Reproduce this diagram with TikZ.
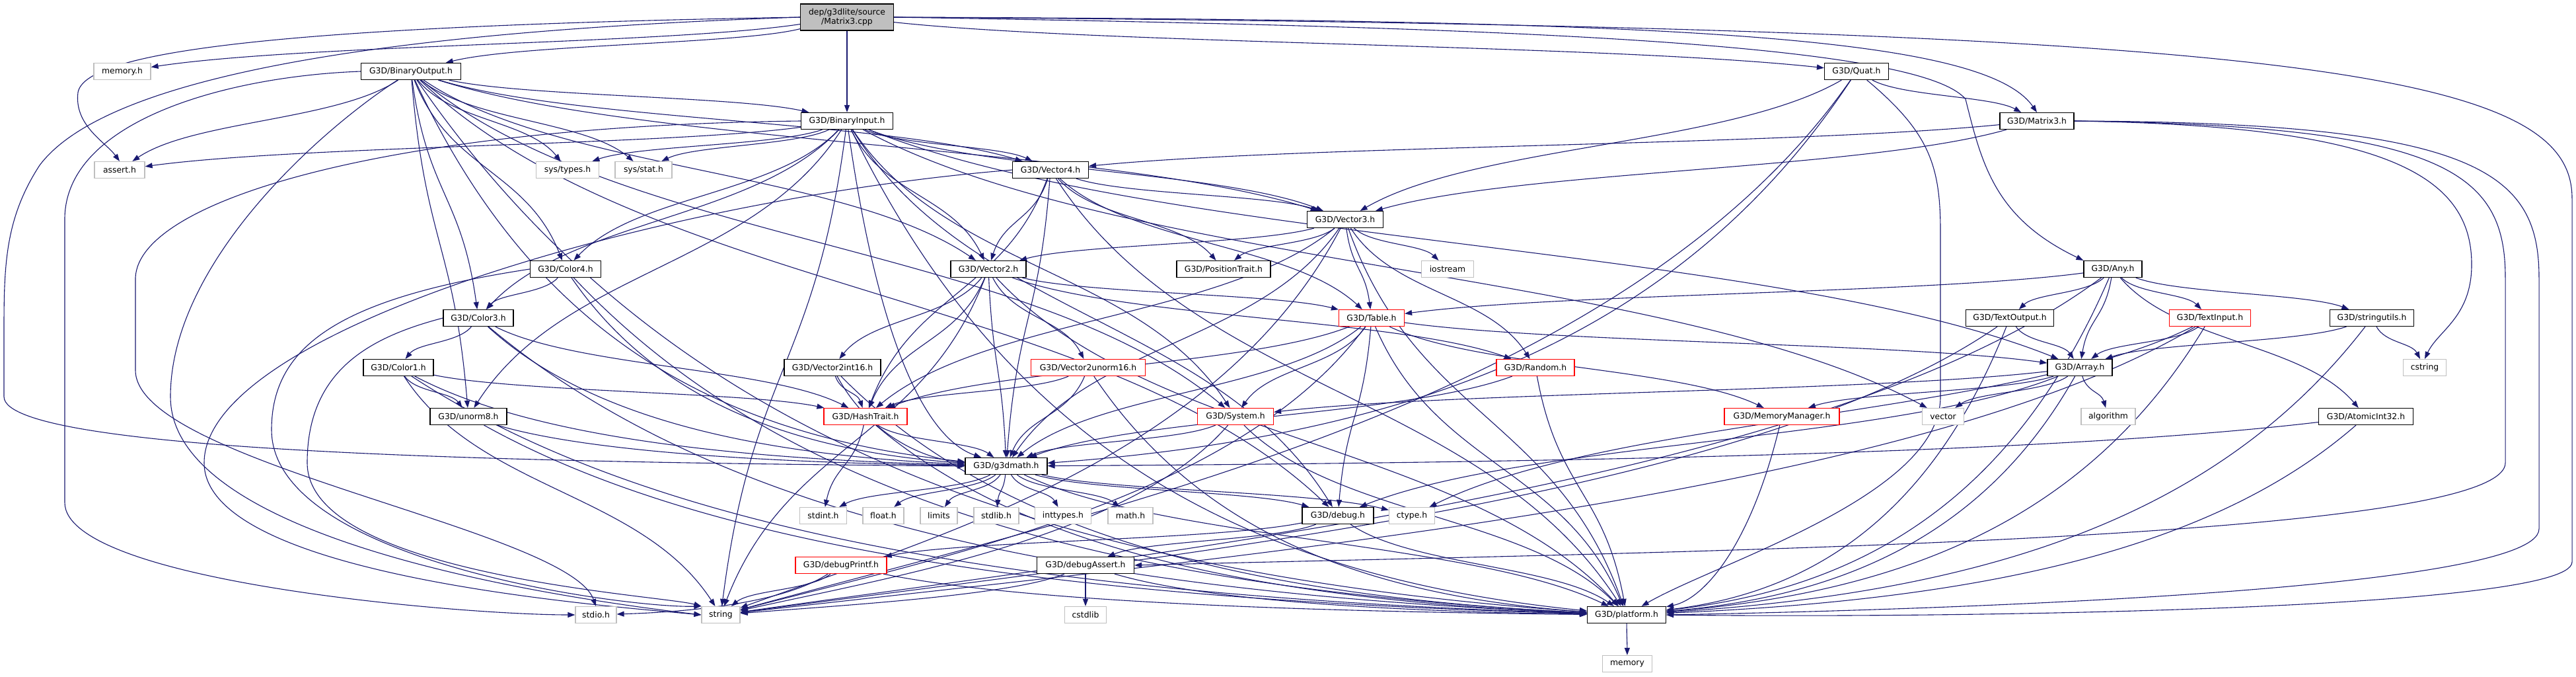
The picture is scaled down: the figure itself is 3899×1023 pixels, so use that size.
\documentclass[tikz,border=0pt]{standalone}
\usepackage{fontspec}
\setmainfont{DejaVu Sans}
\usetikzlibrary{arrows.meta,calc}
\pgfdeclarelayer{bg}
\pgfsetlayers{bg,main}
\definecolor{mblue}{HTML}{191970}
\definecolor{lgray}{HTML}{BFBFBF}
\tikzset{
 box/.style={draw=black, line width=1.2pt, fill=white, minimum height=25pt, inner sep=0pt, font=\fontsize{12.4}{14}\selectfont, text=black},
 rbox/.style={box, draw=red},
 gbox/.style={box, draw=lgray},
 mainbox/.style={box, fill=lgray, minimum height=40pt, align=center},
 edge/.style={draw=mblue, line width=1.1pt, -{Triangle[length=11pt,width=8pt]}},
}
\newcommand\lnkA[2]{\draw[edge] let \p1=(#1.center), \p2=(#2.center) in
    (#1) .. controls ({\x1+0.25*(\x2-\x1)},{\y1+0.5*(\y2-\y1)}) and ({\x2-0.25*(\x2-\x1)},{\y2-0.5*(\y2-\y1)}) .. (#2);}
\newcommand\lnkH[2]{\draw[edge] let \p1=(#1.center), \p2=(#2.center) in
    (#1) .. controls ({\x1+0.2*(\x2-\x1)},{\y1+0.65*(\y2-\y1)}) and ({\x2-0.5*(\x2-\x1)},{\y2-0.08*(\y2-\y1)}) .. (#2);}
\newcommand\lnkS[2]{\draw[edge] let \p1=(#1.center), \p2=(#2.center) in
    (#1) .. controls ({\x1+0.2*(\x2-\x1)},{\y1+0.6*(\y2-\y1)}) and ({\x2-0.35*(\x2-\x1)},{\y2-0.2*(\y2-\y1)}) .. (#2);}
\begin{document}
\begin{tikzpicture}[x=1pt,y=-1pt]
\path[use as bounding box] (0,0) rectangle (3899,1023);
% rank 0-4
\node[mainbox, minimum width=141pt] (m3cpp) at (1282,26) {dep/g3dlite/source\\/Matrix3.cpp};
\node[gbox, minimum width=86pt] (memh) at (185,108) {memory.h};
\node[box, minimum width=151pt] (bo) at (622,108) {G3D/BinaryOutput.h};
\node[box, minimum width=97pt] (quat) at (2810,108) {G3D/Quat.h};
\node[box, minimum width=139pt] (bi) at (1282,183) {G3D/BinaryInput.h};
\node[box, minimum width=112pt] (m3h) at (3083,183) {G3D/Matrix3.h};
\node[gbox, minimum width=76pt] (assert) at (181,257) {assert.h};
\node[gbox, minimum width=95pt] (systypes) at (859,257) {sys/types.h};
\node[gbox, minimum width=86pt] (sysstat) at (974,257) {sys/stat.h};
\node[box, minimum width=115pt] (v4) at (1590,257) {G3D/Vector4.h};
\node[box, minimum width=115pt] (v3) at (2036,332) {G3D/Vector3.h};
% rank 5
\node[box, minimum width=107pt] (c4) at (856,407) {G3D/Color4.h};
\node[box, minimum width=114pt] (v2) at (1496,407) {G3D/Vector2.h};
\node[box, minimum width=142pt] (pos) at (1852,407) {G3D/PositionTrait.h};
\node[gbox, minimum width=79pt] (iostream) at (2191,407) {iostream};
\node[box, minimum width=88pt] (any) at (3198,407) {G3D/Any.h};
% rank 6
\node[box, minimum width=106pt] (c3) at (724,481) {G3D/Color3.h};
\node[rbox, minimum width=99pt] (table) at (2076,481) {G3D/Table.h};
\node[box, minimum width=133pt] (tout) at (3042,481) {G3D/TextOutput.h};
\node[rbox, minimum width=123pt] (tin) at (3345,481) {G3D/TextInput.h};
\node[box, minimum width=127pt] (strutil) at (3590,481) {G3D/stringutils.h};
% rank 7
\node[box, minimum width=106pt] (c1) at (603,556) {G3D/Color1.h};
\node[box, minimum width=146pt] (v2i16) at (1260,556) {G3D/Vector2int16.h};
\node[rbox, minimum width=173pt] (v2u16) at (1647,556) {G3D/Vector2unorm16.h};
\node[rbox, minimum width=118pt] (random) at (2324,556) {G3D/Random.h};
\node[box, minimum width=98pt] (array) at (3148,556) {G3D/Array.h};
\node[gbox, minimum width=65pt] (cstring) at (3670,556) {cstring};
% rank 8
\node[box, minimum width=116pt] (unorm8) at (709,630) {G3D/unorm8.h};
\node[rbox, minimum width=126pt] (hash) at (1310,630) {G3D/HashTrait.h};
\node[rbox, minimum width=115pt] (system) at (1870,630) {G3D/System.h};
\node[rbox, minimum width=174pt] (memmgr) at (2697,630) {G3D/MemoryManager.h};
\node[gbox, minimum width=63pt] (vector) at (2941,630) {vector};
\node[gbox, minimum width=82pt] (algorithm) at (3191,630) {algorithm};
\node[box, minimum width=143pt] (atomic) at (3581,630) {G3D/AtomicInt32.h};
% rank 9-13
\node[box, minimum width=124pt] (g3dmath) at (1523,705) {G3D/g3dmath.h};
\node[gbox, minimum width=71pt] (stdint) at (1246,780) {stdint.h};
\node[gbox, minimum width=62pt] (float) at (1337,780) {float.h};
\node[gbox, minimum width=56pt] (limits) at (1421,780) {limits};
\node[gbox, minimum width=68pt] (stdlib) at (1508,780) {stdlib.h};
\node[gbox, minimum width=85pt] (inttypes) at (1609,780) {inttypes.h};
\node[gbox, minimum width=68pt] (math) at (1711,780) {math.h};
\node[box, minimum width=108pt] (debug) at (2025,780) {G3D/debug.h};
\node[gbox, minimum width=69pt] (ctype) at (2137,780) {ctype.h};
\node[rbox, minimum width=138pt] (dprintf) at (1273,855) {G3D/debugPrintf.h};
\node[box, minimum width=147pt] (dassert) at (1643,855) {G3D/debugAssert.h};
\node[gbox, minimum width=62pt] (stdio) at (902,930) {stdio.h};
\node[gbox, minimum width=58pt] (string) at (1091,930) {string};
\node[gbox, minimum width=63pt] (cstdlib) at (1643,930) {cstdlib};
\node[box, minimum width=119pt] (platform) at (2462,930) {G3D/platform.h};
\node[gbox, minimum width=75pt] (memory) at (2463,1004) {memory};

\begin{pgfonlayer}{bg}
% special routes
\draw[edge] (m3cpp.east) .. controls (3500,40) and (3893,110) .. (3893,300) -- (3893,850) .. controls (3893,925) and (2900,935) .. (platform.east);
\draw[edge] (m3cpp.west) .. controls (400,40) and (128,80) .. (118,140) .. controls (112,190) and (160,215) .. (assert.north);
\draw[edge] (m3cpp.west) .. controls (500,50) and (150,130) .. (60,250) .. controls (8,330) and (6,400) .. (6,500) -- (6,600) .. controls (6,690) and (900,700) .. (g3dmath.west);
\draw[edge] (m3cpp.east) .. controls (2200,40) and (2900,60) .. (2975,150) .. controls (3000,250) and (3020,330) .. (any.north west);
\draw[edge] (m3cpp.east) .. controls (2500,30) and (3000,50) .. (m3h.north);
\draw[edge] (m3h.east) .. controls (3600,190) and (3741,260) .. (3741,400) .. controls (3741,480) and (3690,500) .. (cstring.north);
\draw[edge] (m3h.east) .. controls (3700,190) and (3792,260) .. (3792,420) -- (3792,700) .. controls (3792,820) and (2500,835) .. (dassert.east);
\draw[edge] (m3h.east) .. controls (3750,185) and (3843,260) .. (3843,420) -- (3843,800) .. controls (3843,900) and (2800,925) .. (platform.east);
\draw[edge] (quat) .. controls (2920,200) and (2937,250) .. (2937,350) -- (2937,600) .. controls (2937,750) and (2600,850) .. (platform);
\draw[edge] (m3cpp) -- (bi);
\draw[edge] (bo.west) .. controls (350,115) and (100,180) .. (98,330) -- (98,760) .. controls (98,880) and (700,930) .. (stdio.west);
\draw[edge] (bi.west) .. controls (600,190) and (210,300) .. (205,420) -- (205,560) .. controls (205,700) and (860,800) .. (stdio.north);
\draw[edge] (bo) .. controls (480,200) and (258,400) .. (258,600) .. controls (258,820) and (850,905) .. (string.west);
\draw[edge] (v4.west) .. controls (1000,300) and (309,500) .. (309,700) .. controls (309,870) and (900,915) .. (string.west);
\draw[edge] (c4.west) .. controls (520,450) and (411,520) .. (411,650) .. controls (411,850) and (950,920) .. (string.north west);
\draw[edge] (c3.west) .. controls (560,510) and (465,560) .. (465,700) .. controls (465,870) and (1000,900) .. (string.north west);
% default curved edges
\foreach \a/\b in {m3cpp/memh, m3cpp/bo, m3cpp/quat,
  bo/assert, bo/systypes, bo/sysstat, bo/unorm8, bo/c4, bo/c3, bo/v4, bo/v3, bo/v2, bo/debug, bo/bi, bo/system,
  bi/assert, bi/string, bi/vector, bi/sysstat, bi/systypes, bi/unorm8, bi/array, bi/c4, bi/c3, bi/v4, bi/v3, bi/v2, bi/debug, bi/system,
  quat/v3, quat/m3h, m3h/v3, m3h/v4,
  v4/platform, v4/g3dmath, v4/v3, v4/v2, v4/table, v4/hash, v4/pos,
  v3/platform, v3/g3dmath, v3/random, v3/v2, v3/table, v3/hash, v3/pos, v3/iostream,
  v2/string, v2/platform, v2/g3dmath, v2/table, v2/hash, v2/v2i16, v2/v2u16, v2/random,
  c4/c3, c3/hash, c3/c1, c1/unorm8, c1/hash, c1/string,
  v2i16/hash, v2u16/g3dmath, v2u16/hash,
  hash/g3dmath, hash/stdint,
  system/platform, system/g3dmath,
  table/platform, table/array, table/debug, table/system, table/g3dmath, table/hash, table/memmgr,
  random/platform, random/g3dmath,
  array/debug, array/memmgr, array/system, array/vector, array/algorithm,
  any/table, any/array, any/atomic, any/strutil, any/tin, any/tout,
  tout/array, tin/array, tin/ctype, strutil/array, strutil/cstring,
  g3dmath/stdint, g3dmath/float, g3dmath/limits, g3dmath/stdlib, g3dmath/inttypes, g3dmath/math, g3dmath/debug, g3dmath/ctype, g3dmath/platform,
  debug/platform, debug/dprintf, debug/dassert,
  dprintf/string, dassert/cstdlib,
  platform/memory}
  {\lnkA{\a}{\b}}
% side-arriving edges
\foreach \a/\b in {bo/platform, bi/platform, c1/platform, c3/platform, c4/platform, unorm8/platform, v2i16/platform, v2u16/platform, hash/platform,
  dprintf/platform, dassert/platform, any/platform, tin/platform, tout/platform, strutil/platform, array/platform, atomic/platform, memmgr/platform,
  dprintf/stdio,
  bo/g3dmath, bi/g3dmath, unorm8/g3dmath, c1/g3dmath, c3/g3dmath, c4/g3dmath, atomic/g3dmath, quat/g3dmath, v2i16/g3dmath}
  {\lnkH{\a}{\b}}
% edges into string from the right
\foreach \a/\b in {system/string, table/string, any/string, tout/string, tin/string, dassert/string, quat/string, v3/string}
  {\lnkS{\a}{\b}}
\end{pgfonlayer}
\end{tikzpicture}
\end{document}
